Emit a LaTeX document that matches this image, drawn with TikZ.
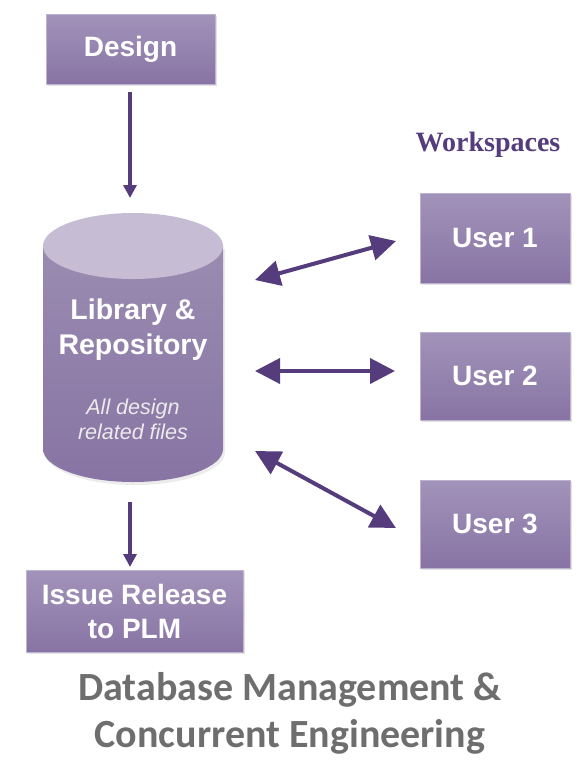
\documentclass[tikz,border=0pt]{standalone}
\usepackage{fontspec}
\setmainfont{Liberation Sans}
\newfontfamily\serifb{Liberation Serif}
\newfontfamily\titlef{Carlito}
\usetikzlibrary{arrows.meta,shadows}
\definecolor{boxtop}{HTML}{A293BA}
\definecolor{boxbot}{HTML}{8874A4}
\definecolor{cyltop}{HTML}{C6BDD5}
\definecolor{arrowc}{HTML}{553C7D}
\definecolor{titlec}{HTML}{6E6E6E}
\tikzset{
  pbox/.style={draw=boxtop!70!white, line width=0.8pt, top color=boxtop, bottom color=boxbot,
    text=white, font=\fontsize{28}{34}\selectfont\bfseries, align=center, inner sep=0pt,
    drop shadow={opacity=0.22, shadow xshift=1.5pt, shadow yshift=-2pt}},
  bigarrow/.style={arrowc, line width=4pt, {Triangle[length=25pt,width=25pt]}-{Triangle[length=25pt,width=25pt]}},
  downarrow/.style={arrowc, line width=3.5pt, -{Triangle[length=13pt,width=13pt]}},
  cyltext/.style={text=white, font=\fontsize{28.5}{35}\selectfont\bfseries, align=center},
  cylsub/.style={text=white!92!black, font=\fontsize{21.5}{25}\selectfont\itshape, align=center},
  title/.style={text=titlec, font=\titlef\fontsize{40}{47}\selectfont\bfseries, align=center},
}
\begin{document}
\begin{tikzpicture}[x=1pt,y=-1pt]
\useasboundingbox (0,0) rectangle (582,764);
% boxes
\node[pbox, minimum width=169pt, minimum height=70pt] (design) at (130.5,49) {Design};
\node[pbox, minimum width=150pt, minimum height=90pt] (u1) at (495,238) {User 1};
\node[pbox, minimum width=150pt, minimum height=88pt] (u2) at (495,376) {User 2};
\node[pbox, minimum width=150pt, minimum height=88pt] (u3) at (495,524) {User 3};
\node[pbox, minimum width=217pt, minimum height=82pt] (issue) at (134.5,611) {Issue Release\\to PLM};
% cylinder
\fill[gray!60, opacity=0.25] (45,249) -- (45,452) arc[start angle=180, end angle=360, x radius=90pt, y radius=33pt] -- (225,249) -- cycle;
\shade[top color=boxtop!95!black, bottom color=boxbot] (43,246) -- (43,449) arc[start angle=180, end angle=360, x radius=90pt, y radius=33pt] -- (223,246) -- cycle;
\fill[cyltop] (133,246) ellipse[x radius=90pt, y radius=33pt];
\node[cyltext] (lib) at (133,330) {Library \&\\Repository};
\node[cylsub] (libsub) at (133,419) {All design\\related files};
% workspaces label
\node[text=arrowc, font=\serifb\fontsize{28}{32}\selectfont\bfseries] (ws) at (488,145) {Workspaces};
% title
\node[title] (t) at (290,713) {Database Management \&\\Concurrent Engineering};
% connector endpoints
\coordinate (d1) at (130,92);
\coordinate (d2) at (130,198);
\coordinate (i1) at (130,502);
\coordinate (i2) at (130,567);
\coordinate (a1s) at (255,280);
\coordinate (a1e) at (396,241);
\coordinate (a2s) at (255,371);
\coordinate (a2e) at (395,371);
\coordinate (a3s) at (255,451);
\coordinate (a3e) at (396,528);
\draw[downarrow] (d1) -- (d2);
\draw[downarrow] (i1) -- (i2);
\draw[bigarrow] (a1s) -- (a1e);
\draw[bigarrow] (a2s) -- (a2e);
\draw[bigarrow] (a3s) -- (a3e);
\end{tikzpicture}
\end{document}
